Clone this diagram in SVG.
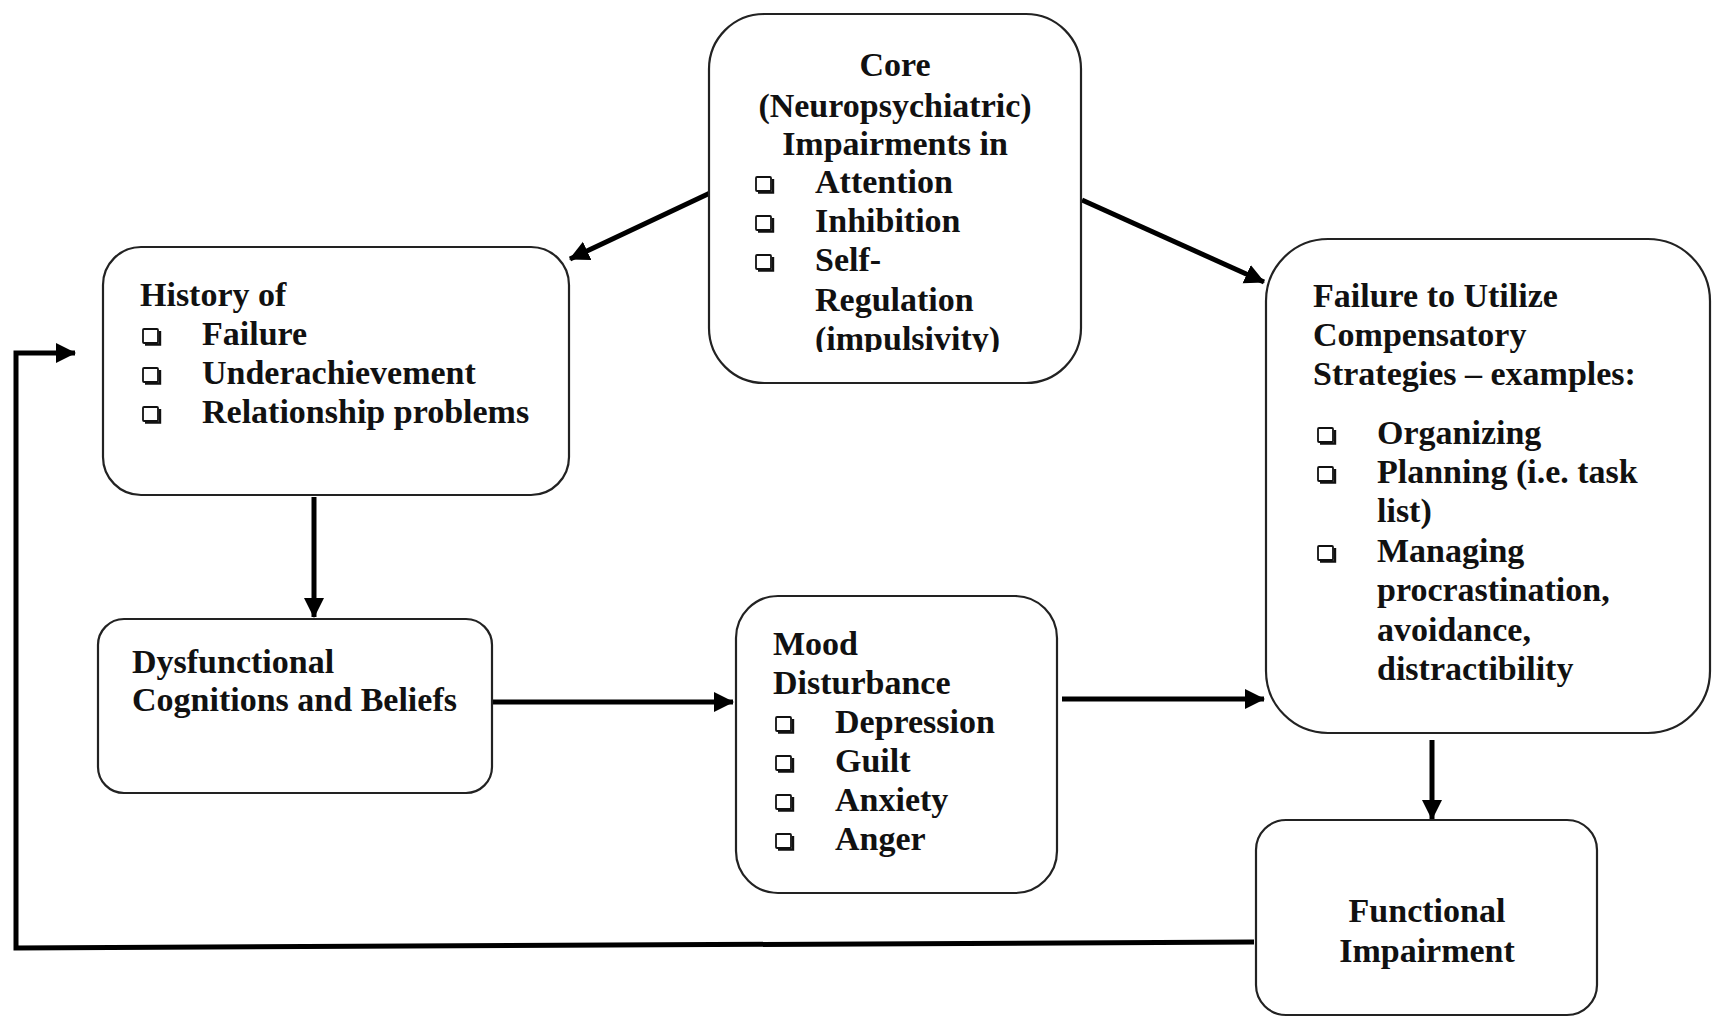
<svg xmlns="http://www.w3.org/2000/svg" width="1713" height="1017" viewBox="0 0 1713 1017">
<style>
.box{fill:#fff;stroke:#222;stroke-width:2.2}
text{font-family:"Liberation Serif","Times New Roman",serif;font-weight:bold;font-size:34px;fill:#111}
.c{text-anchor:middle}
.conn{fill:none;stroke:#000;stroke-width:5}
.b{fill:none;stroke:#111;stroke-width:1.8}
.bs{fill:none;stroke:#111;stroke-width:2.4}
</style>
<defs>
<marker id="ah" markerUnits="userSpaceOnUse" markerWidth="24" markerHeight="22" refX="19" refY="11" orient="auto">
<path d="M0,1 L20,11 L0,21 Z" fill="#000"/>
</marker>
<g id="bul">
<rect class="b" x="1" y="-16" width="15" height="14" rx="1"/>
<path class="bs" d="M3,-0.5 H18 V-14"/>
</g>
<clipPath id="clipCore"><rect x="700" y="10" width="400" height="342"/></clipPath>
</defs>
<g id="connectors">
<line class="conn" x1="710" y1="193" x2="570" y2="259" marker-end="url(#ah)"/>
<line class="conn" x1="1082" y1="200" x2="1264" y2="282" marker-end="url(#ah)"/>
<line class="conn" x1="314" y1="497" x2="314" y2="617" marker-end="url(#ah)"/>
<line class="conn" x1="492" y1="702" x2="733" y2="702" marker-end="url(#ah)"/>
<line class="conn" x1="1062" y1="699" x2="1264" y2="699" marker-end="url(#ah)"/>
<line class="conn" x1="1432" y1="740" x2="1432" y2="819" marker-end="url(#ah)"/>
<polyline class="conn" points="1254,942 16,948 16,353 75,353" marker-end="url(#ah)"/>
</g>
<g id="core">
<rect class="box" x="709" y="14" width="372" height="369" rx="55"/>
<text class="c" x="895" y="76">Core</text>
<text class="c" x="895" y="117">(Neuropsychiatric)</text>
<text class="c" x="895" y="155">Impairments in</text>
<use href="#bul" x="755" y="193"/><text x="815" y="193">Attention</text>
<use href="#bul" x="755" y="232"/><text x="815" y="232">Inhibition</text>
<use href="#bul" x="755" y="271"/><text x="815" y="271">Self-</text>
<text x="815" y="311">Regulation</text>
<text x="815" y="350" clip-path="url(#clipCore)">(impulsivity)</text>
</g>
<g id="history">
<rect class="box" x="103" y="247" width="466" height="248" rx="38"/>
<text x="140" y="306">History of</text>
<use href="#bul" x="142" y="345"/><text x="202" y="345">Failure</text>
<use href="#bul" x="142" y="384"/><text x="202" y="384">Underachievement</text>
<use href="#bul" x="142" y="423"/><text x="202" y="423">Relationship problems</text>
</g>
<g id="failure">
<rect class="box" x="1266" y="239" width="444" height="494" rx="62"/>
<text x="1313" y="307">Failure to Utilize</text>
<text x="1313" y="346">Compensatory</text>
<text x="1313" y="385">Strategies – examples:</text>
<use href="#bul" x="1317" y="444"/><text x="1377" y="444">Organizing</text>
<use href="#bul" x="1317" y="483"/><text x="1377" y="483">Planning (i.e. task</text>
<text x="1377" y="522">list)</text>
<use href="#bul" x="1317" y="562"/><text x="1377" y="562">Managing</text>
<text x="1377" y="601">procrastination,</text>
<text x="1377" y="641">avoidance,</text>
<text x="1377" y="680">distractibility</text>
</g>
<g id="dysfunctional">
<rect class="box" x="98" y="619" width="394" height="174" rx="26"/>
<text x="132" y="673">Dysfunctional</text>
<text x="132" y="711">Cognitions and Beliefs</text>
</g>
<g id="mood">
<rect class="box" x="736" y="596" width="321" height="297" rx="42"/>
<text x="773" y="655">Mood</text>
<text x="773" y="694">Disturbance</text>
<use href="#bul" x="775" y="733"/><text x="835" y="733">Depression</text>
<use href="#bul" x="775" y="772"/><text x="835" y="772">Guilt</text>
<use href="#bul" x="775" y="811"/><text x="835" y="811">Anxiety</text>
<use href="#bul" x="775" y="850"/><text x="835" y="850">Anger</text>
</g>
<g id="functional">
<rect class="box" x="1256" y="820" width="341" height="195" rx="30"/>
<text class="c" x="1427" y="922">Functional</text>
<text class="c" x="1427" y="962">Impairment</text>
</g>
</svg>
